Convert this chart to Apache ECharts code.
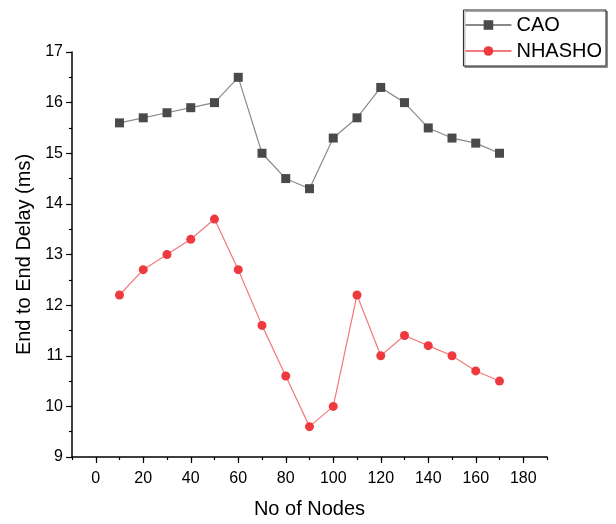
<!DOCTYPE html>
<html>
<head>
<meta charset="utf-8">
<script src="https://cdn.jsdelivr.net/npm/echarts@6/dist/echarts.min.js"></script>
<style>
  html, body { margin: 0; padding: 0; background: #fff; }
  #chart { width: 616px; height: 524px; }
</style>
</head>
<body>
<div id="chart"></div>
<script>
const nodes = [10, 20, 30, 40, 50, 60, 70, 80, 90, 100, 110, 120, 130, 140, 150, 160, 170];
const cao = [15.6, 15.7, 15.8, 15.9, 16.0, 16.5, 15.0, 14.5, 14.3, 15.3, 15.7, 16.3, 16.0, 15.5, 15.3, 15.2, 15.0];
const nhasho = [12.2, 12.7, 13.0, 13.3, 13.7, 12.7, 11.6, 10.6, 9.6, 10.0, 12.2, 11.0, 11.4, 11.2, 11.0, 10.7, 10.5];
const xTicks = [0, 20, 40, 60, 80, 100, 120, 140, 160, 180];

const pairs = ys => nodes.map((x, i) => [x, ys[i]]);
const font = 'Liberation Sans, Arial, sans-serif';

let chart = echarts.init(document.getElementById('chart'));

chart.setOption({
  animation: false,
  grid: { left: 72, right: 69, top: 52, bottom: 66 },
  legend: {
    right: 10,
    top: 10,
    orient: 'vertical',
    itemWidth: 46,
    itemHeight: 12,
    itemGap: 6,
    padding: [5, 4, 5, 1],
    backgroundColor: '#fff',
    borderColor: '#222',
    borderWidth: 1,
    shadowColor: 'rgba(0,0,0,0.35)',
    shadowOffsetX: 1.5,
    shadowOffsetY: 1.5,
    textStyle: { fontFamily: font, fontSize: 20, color: '#000' },
    data: ['CAO', 'NHASHO']
  },
  xAxis: [
    {
      type: 'value',
      min: -10,
      max: 190,
      interval: 10,
      name: 'No of Nodes',
      nameLocation: 'middle',
      nameGap: 42,
      nameTextStyle: { fontFamily: font, fontSize: 20, color: '#000' },
      axisLine: { onZero: false, lineStyle: { color: '#000', width: 1.5 } },
      axisTick: { customValues: xTicks, inside: false, length: 6, lineStyle: { color: '#000', width: 1.2 } },
      axisLabel: {
        customValues: xTicks,
        fontFamily: font, fontSize: 16, color: '#000', margin: 14
      },
      splitLine: { show: false }
    },
    {
      type: 'value',
      position: 'bottom',
      min: -10,
      max: 190,
      interval: 10,
      axisLine: { show: false, onZero: false },
      axisTick: { show: true, inside: false, length: 3, lineStyle: { color: '#000', width: 1.2 } },
      axisLabel: { show: false },
      splitLine: { show: false }
    }
  ],
  yAxis: {
    type: 'value',
    min: 9,
    max: 17,
    interval: 1,
    name: 'End to End Delay (ms)',
    nameLocation: 'middle',
    nameGap: 37,
    nameTextStyle: { fontFamily: font, fontSize: 20, color: '#000' },
    axisLine: { show: true, onZero: false, lineStyle: { color: '#000', width: 1.5 } },
    axisTick: { show: true, inside: false, length: 6, lineStyle: { color: '#000', width: 1.2 } },
    minorTick: { show: true, splitNumber: 2, length: 3, lineStyle: { color: '#000', width: 1.2 } },
    axisLabel: { fontFamily: font, fontSize: 16, color: '#000', margin: 9 },
    splitLine: { show: false }
  },
  series: [
    {
      name: 'CAO',
      type: 'line',
      data: pairs(cao),
      symbol: 'rect',
      symbolSize: 9,
      itemStyle: { color: '#4a4a4a' },
      lineStyle: { color: '#8a8a8a', width: 1.2 }
    },
    {
      name: 'NHASHO',
      type: 'line',
      data: pairs(nhasho),
      symbol: 'circle',
      symbolSize: 9,
      itemStyle: { color: '#ee3a3f' },
      lineStyle: { color: '#f27a7d', width: 1.2 }
    }
  ]
});
</script>
</body>
</html>
